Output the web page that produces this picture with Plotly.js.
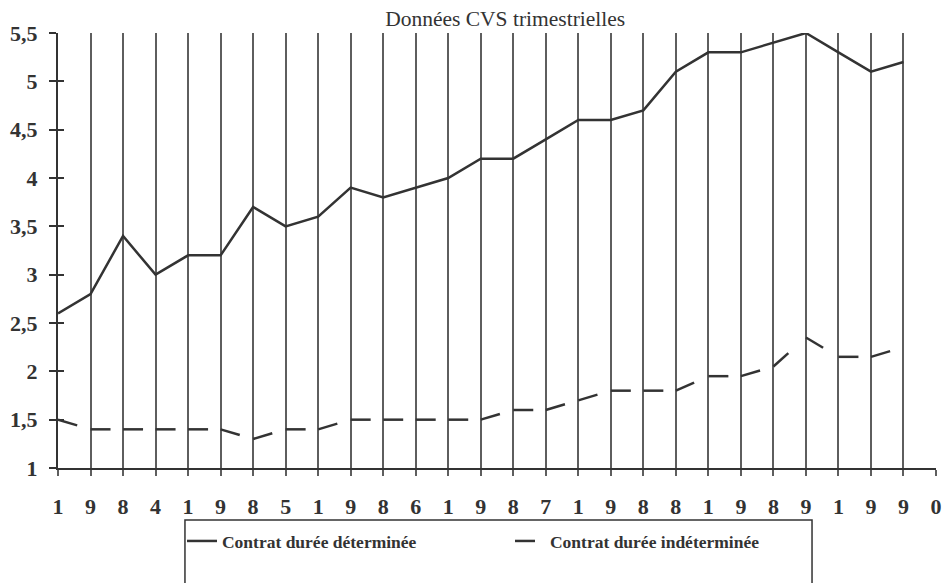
<!DOCTYPE html>
<html>
<head>
<meta charset="utf-8">
<script src="https://cdn.plot.ly/plotly-3.0.1.min.js"></script>
<style>
  html, body { margin: 0; padding: 0; background: #ffffff; }
  #chart { width: 946px; height: 583px; }
</style>
</head>
<body>
<div id="chart"></div>
<script>
// Quarterly periods (CVS data), 1984 T1 to 1990 T3
const periods = [
  '1984 T1','1984 T2','1984 T3','1984 T4',
  '1985 T1','1985 T2','1985 T3','1985 T4',
  '1986 T1','1986 T2','1986 T3','1986 T4',
  '1987 T1','1987 T2','1987 T3','1987 T4',
  '1988 T1','1988 T2','1988 T3','1988 T4',
  '1989 T1','1989 T2','1989 T3','1989 T4',
  '1990 T1','1990 T2','1990 T3'
];
// Contrat durée déterminée
const cddValues = [2.6, 2.8, 3.4, 3.0, 3.2, 3.2, 3.7, 3.5, 3.6, 3.9, 3.8, 3.9, 4.0, 4.2,
                   4.2, 4.4, 4.6, 4.6, 4.7, 5.1, 5.3, 5.3, 5.4, 5.5, 5.3, 5.1, 5.2];
// Contrat durée indéterminée
const cdiValues = [1.5, 1.4, 1.4, 1.4, 1.4, 1.4, 1.3, 1.4, 1.4, 1.5, 1.5, 1.5, 1.5, 1.5,
                   1.6, 1.6, 1.7, 1.8, 1.8, 1.8, 1.95, 1.95, 2.05, 2.35, 2.15, 2.15, 2.25];
// X tick labels: the years written digit by digit, one per quarter
const xTickText = ['1','9','8','4','1','9','8','5','1','9','8','6','1','9','8','7',
                   '1','9','8','8','1','9','8','9','1','9','9','0'];
// Y tick values and labels
const yTickVals = [1, 1.5, 2, 2.5, 3, 3.5, 4, 4.5, 5, 5.5];
const yTickText = ['1','1,5','2','2,5','3','3,5','4','4,5','5','5,5'];
const seriesNames = ['Contrat durée déterminée', 'Contrat durée indéterminée'];

const xIdx = periods.map((p, i) => i);
const xTickVals = xTickText.map((t, i) => i);

const ink = '#333333';
const serif = 'Liberation Serif, Times New Roman, serif';

const traces = [];
traces.push({
  x: xIdx, y: cddValues, text: periods, name: seriesNames[0],
  type: 'scatter', mode: 'lines',
  line: { color: ink, width: 2.5 },
  hovertemplate: '%{text}: %{y}<extra></extra>'
});
// dashed series drawn segment by segment so each dash starts at the quarter
for (let i = 0; i < cdiValues.length - 1; i++) {
  traces.push({
    x: [xIdx[i], xIdx[i + 1]], y: [cdiValues[i], cdiValues[i + 1]],
    text: [periods[i], periods[i + 1]],
    name: seriesNames[1], legendgroup: 'cdi', showlegend: i === 0,
    type: 'scatter', mode: 'lines',
    line: { color: ink, width: 2.5, dash: '20px,40px' },
    hovertemplate: '%{text}: %{y}<extra></extra>'
  });
}
// helper trace for the inner y ticks
traces.push({ x: [0], y: [1], yaxis: 'y2', mode: 'markers', marker: { opacity: 0 },
  showlegend: false, hoverinfo: 'skip' });

const layout = {
  width: 946, height: 583,
  paper_bgcolor: '#ffffff', plot_bgcolor: '#ffffff',
  margin: { l: 58, r: 10, t: 33, b: 115 },
  font: { family: serif, color: ink },
  title: {
    text: 'Données CVS trimestrielles',
    font: { family: serif, size: 21.5, color: ink },
    xref: 'container', x: 0.534, xanchor: 'center',
    yref: 'container', y: 0.969, yanchor: 'middle'
  },
  xaxis: {
    range: [0, 27], tickmode: 'array', tickvals: xTickVals, ticktext: xTickText,
    showgrid: true, gridcolor: '#5e5e5e', gridwidth: 2,
    showline: true, linecolor: ink, linewidth: 2,
    ticks: 'outside', ticklen: 6, tickwidth: 2, tickcolor: '#5e5e5e',
    ticklabelstandoff: 12,
    tickfont: { family: serif, size: 22, color: ink, weight: 'bold' },
    zeroline: false, fixedrange: true
  },
  yaxis: {
    range: [1, 5.5], tickmode: 'array', tickvals: yTickVals, ticktext: yTickText,
    showgrid: false, showline: true, linecolor: ink, linewidth: 2, mirror: false,
    ticks: 'outside', ticklen: 7, tickwidth: 2, tickcolor: ink,
    ticklabelstandoff: 7,
    tickfont: { family: serif, size: 22, color: ink, weight: 'bold' },
    zeroline: false, fixedrange: true
  },
  yaxis2: {
    overlaying: 'y', side: 'left', range: [1, 5.5],
    tickmode: 'array', tickvals: yTickVals,
    showticklabels: false, showgrid: false, showline: false, zeroline: false,
    ticks: 'inside', ticklen: 6, tickwidth: 2, tickcolor: ink, fixedrange: true
  },
  showlegend: true,
  legend: {
    orientation: 'h', x: 0.1412, xanchor: 'left', y: -0.168, yanchor: 'middle',
    bgcolor: 'rgba(0,0,0,0)', borderwidth: 0,
    entrywidth: 283, entrywidthmode: 'pixels',
    font: { family: serif, size: 17.5, color: ink, weight: 'bold' }
  },
  shapes: [{
    type: 'rect', xref: 'paper', yref: 'paper',
    x0: 0.1446, x1: 0.8588, y0: -0.30, y1: -0.1195,
    line: { color: ink, width: 1.5 }, fillcolor: 'rgba(0,0,0,0)'
  }]
};

Plotly.newPlot('chart', traces, layout, { displayModeBar: false, staticPlot: true });
</script>
</body>
</html>
